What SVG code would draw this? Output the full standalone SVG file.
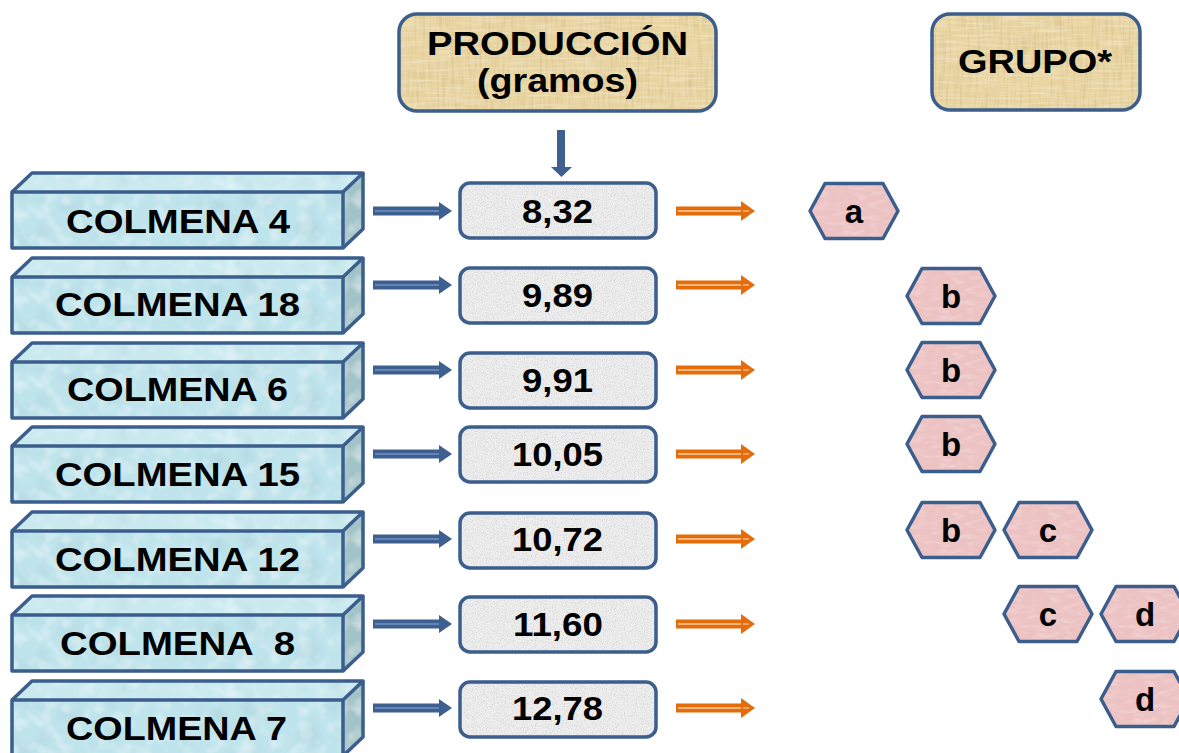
<svg xmlns="http://www.w3.org/2000/svg" xmlns:xlink="http://www.w3.org/1999/xlink" width="1179" height="753" viewBox="0 0 1179 753">
  <style>
    .lbl { font-family: "Liberation Sans", Arial, sans-serif; font-weight: bold; font-size: 34px; fill: #000; }
    .hdr { font-family: "Liberation Sans", Arial, sans-serif; font-weight: bold; font-size: 33px; fill: #000; }
    .hexlbl { font-family: "Liberation Sans", Arial, sans-serif; font-weight: bold; font-size: 33px; fill: #000; text-anchor: middle; }
    .edge { fill: none; stroke: #3b5e8d; stroke-width: 3.5; stroke-linejoin: round; }
    .front { fill: #bfe4ec; }
    .top { fill: #cbeaf0; }
    .side { fill: #a2c4c8; }
    .paper { fill: #e9d5a2; }
    .stone { fill: #efefef; }
    .hexfill { fill: #ecc2c3; }
  </style>
  <defs>
    <!-- water-drop mottling for the hive bars -->
    <filter id="water" x="0" y="0" width="100%" height="100%">
      <feTurbulence type="fractalNoise" baseFrequency="0.035" numOctaves="2" seed="7" result="n"/>
      <feColorMatrix in="n" type="matrix" values="0 0 0 0 0.25  0 0 0 0 0.45  0 0 0 0 0.5  0.7 0 0 0 -0.36" result="d"/>
      <feTurbulence type="fractalNoise" baseFrequency="0.07" numOctaves="2" seed="2" result="n2"/>
      <feColorMatrix in="n2" type="matrix" values="0 0 0 0 1  0 0 0 0 1  0 0 0 0 1  0.9 0 0 0 -0.43" result="w"/>
      <feMerge result="m"><feMergeNode in="SourceGraphic"/><feMergeNode in="d"/><feMergeNode in="w"/></feMerge>
      <feComposite in="m" in2="SourceAlpha" operator="in"/>
    </filter>
    <!-- fine speckle for the value boxes -->
    <filter id="speckle" x="0" y="0" width="100%" height="100%">
      <feTurbulence type="fractalNoise" baseFrequency="0.9" numOctaves="2" seed="4" result="n"/>
      <feColorMatrix in="n" type="matrix" values="0 0 0 0 0  0 0 0 0 0  0 0 0 0 0  0.6 0 0 0 -0.26" result="d"/>
      <feMerge result="m"><feMergeNode in="SourceGraphic"/><feMergeNode in="d"/></feMerge>
      <feComposite in="m" in2="SourceAlpha" operator="in"/>
    </filter>
    <!-- papyrus fibres for the headers -->
    <filter id="papyrus" x="0" y="0" width="100%" height="100%">
      <feTurbulence type="fractalNoise" baseFrequency="0.35 0.03" numOctaves="2" seed="9" result="n"/>
      <feColorMatrix in="n" type="matrix" values="0 0 0 0 0.45  0 0 0 0 0.3  0 0 0 0 0.1  0.7 0 0 0 -0.3" result="d"/>
      <feTurbulence type="fractalNoise" baseFrequency="0.03 0.4" numOctaves="2" seed="5" result="n2"/>
      <feColorMatrix in="n2" type="matrix" values="0 0 0 0 1  0 0 0 0 1  0 0 0 0 0.9  0.7 0 0 0 -0.3" result="w"/>
      <feMerge result="m"><feMergeNode in="SourceGraphic"/><feMergeNode in="d"/><feMergeNode in="w"/></feMerge>
      <feComposite in="m" in2="SourceAlpha" operator="in"/>
    </filter>
    <!-- soft marbling for the group tags -->
    <filter id="marble" x="0" y="0" width="100%" height="100%">
      <feTurbulence type="fractalNoise" baseFrequency="0.08 0.2" numOctaves="2" seed="11" result="n"/>
      <feColorMatrix in="n" type="matrix" values="0 0 0 0 1  0 0 0 0 0.92  0 0 0 0 0.92  0.7 0 0 0 -0.33" result="w"/>
      <feMerge result="m"><feMergeNode in="SourceGraphic"/><feMergeNode in="w"/></feMerge>
      <feComposite in="m" in2="SourceAlpha" operator="in"/>
    </filter>

    <!-- 3-D hive bar, front face at (0,0)-(331,56), depth 20/-19 -->
    <g id="bar">
      <g filter="url(#water)">
        <rect class="front" x="0" y="0" width="331" height="56"/>
        <polygon class="top" points="0,0 20,-19 351,-19 331,0"/>
        <polygon class="side" points="331,0 351,-19 351,37 331,56"/>
      </g>
      <rect class="edge" x="0" y="0" width="331" height="56"/>
      <polyline class="edge" points="0,0 20,-19 351,-19 331,0"/>
      <polyline class="edge" points="351,-19 351,37 331,56"/>
    </g>

    <g id="valbox">
      <rect class="stone" x="0" y="0" width="196" height="55" rx="10" filter="url(#speckle)"/>
      <rect class="edge" x="0" y="0" width="196" height="55" rx="10"/>
    </g>

    <g id="hex">
      <polygon class="hexfill" points="-44,0 -29,-27.5 29,-27.5 44,0 29,27.5 -29,27.5" filter="url(#marble)"/>
      <polygon class="edge" points="-44,0 -29,-27.5 29,-27.5 44,0 29,27.5 -29,27.5"/>
    </g>

    <!-- block arrows with a light centre line, tail at x=0 -->
    <g id="blueArrow">
      <rect x="0" y="-4.5" width="68" height="9" fill="#3d6090"/>
      <line x1="2" y1="0" x2="70" y2="0" stroke="#6585b6" stroke-width="2"/>
      <polygon points="66,-9 79,0 66,9" fill="#3d6090"/>
    </g>
    <g id="orangeArrow">
      <rect x="0" y="-4.5" width="67" height="9" fill="#e46c0a"/>
      <line x1="2" y1="0" x2="69" y2="0" stroke="#f6b57a" stroke-width="2"/>
      <polygon points="65,-10 79,0 65,10" fill="#e46c0a"/>
      <line x1="67" y1="0" x2="73" y2="0" stroke="#f6b57a" stroke-width="1.5"/>
    </g>
  </defs>

  <rect width="1179" height="753" fill="#ffffff"/>

  <!-- headers -->
  <g id="hdr-produccion">
    <rect class="paper" x="399" y="14" width="317" height="97" rx="18" filter="url(#papyrus)"/>
    <rect class="edge" x="399" y="14" width="317" height="97" rx="18"/>
    <text class="hdr" x="427" y="55" textLength="261" lengthAdjust="spacingAndGlyphs">PRODUCCIÓN</text>
    <text class="hdr" x="477" y="92" textLength="161" lengthAdjust="spacingAndGlyphs">(gramos)</text>
  </g>
  <g id="hdr-grupo">
    <rect class="paper" x="932" y="14" width="208" height="96" rx="18" filter="url(#papyrus)"/>
    <rect class="edge" x="932" y="14" width="208" height="96" rx="18"/>
    <text class="hdr" x="958" y="73" textLength="154" lengthAdjust="spacingAndGlyphs">GRUPO*</text>
  </g>

  <!-- hives -->
  <g id="colmena-4">
    <use xlink:href="#bar" x="12" y="192"/>
    <text class="lbl" x="66" y="233" textLength="224" lengthAdjust="spacingAndGlyphs">COLMENA 4</text>
  </g>
  <g id="colmena-18">
    <use xlink:href="#bar" x="12" y="277"/>
    <text class="lbl" x="55" y="316" textLength="245" lengthAdjust="spacingAndGlyphs">COLMENA 18</text>
  </g>
  <g id="colmena-6">
    <use xlink:href="#bar" x="12" y="362"/>
    <text class="lbl" x="67" y="401" textLength="221" lengthAdjust="spacingAndGlyphs">COLMENA 6</text>
  </g>
  <g id="colmena-15">
    <use xlink:href="#bar" x="12" y="446"/>
    <text class="lbl" x="55" y="486" textLength="245" lengthAdjust="spacingAndGlyphs">COLMENA 15</text>
  </g>
  <g id="colmena-12">
    <use xlink:href="#bar" x="12" y="531"/>
    <text class="lbl" x="55" y="571" textLength="245" lengthAdjust="spacingAndGlyphs">COLMENA 12</text>
  </g>
  <g id="colmena-8">
    <use xlink:href="#bar" x="12" y="615"/>
    <text class="lbl" x="60" y="655" textLength="235" lengthAdjust="spacingAndGlyphs" xml:space="preserve">COLMENA  8</text>
  </g>
  <g id="colmena-7">
    <use xlink:href="#bar" x="12" y="700"/>
    <text class="lbl" x="66" y="740" textLength="221" lengthAdjust="spacingAndGlyphs">COLMENA 7</text>
  </g>

  <!-- production values -->
  <g id="val-1">
    <use xlink:href="#valbox" x="460" y="183"/>
    <text class="lbl" x="522" y="223" textLength="71" lengthAdjust="spacingAndGlyphs">8,32</text>
  </g>
  <g id="val-2">
    <use xlink:href="#valbox" x="460" y="268"/>
    <text class="lbl" x="522" y="307" textLength="71" lengthAdjust="spacingAndGlyphs">9,89</text>
  </g>
  <g id="val-3">
    <use xlink:href="#valbox" x="460" y="353"/>
    <text class="lbl" x="522" y="392" textLength="71" lengthAdjust="spacingAndGlyphs">9,91</text>
  </g>
  <g id="val-4">
    <use xlink:href="#valbox" x="460" y="427"/>
    <text class="lbl" x="512" y="466" textLength="91" lengthAdjust="spacingAndGlyphs">10,05</text>
  </g>
  <g id="val-5">
    <use xlink:href="#valbox" x="460" y="513"/>
    <text class="lbl" x="512" y="551" textLength="91" lengthAdjust="spacingAndGlyphs">10,72</text>
  </g>
  <g id="val-6">
    <use xlink:href="#valbox" x="460" y="597"/>
    <text class="lbl" x="513" y="636" textLength="90" lengthAdjust="spacingAndGlyphs">11,60</text>
  </g>
  <g id="val-7">
    <use xlink:href="#valbox" x="460" y="682"/>
    <text class="lbl" x="512" y="720" textLength="91" lengthAdjust="spacingAndGlyphs">12,78</text>
  </g>

  <!-- group tags -->
  <g id="grp-a-1">
    <use xlink:href="#hex" x="854" y="211"/>
    <text class="hexlbl" x="854" y="223">a</text>
  </g>
  <g id="grp-b-2">
    <use xlink:href="#hex" x="951" y="296"/>
    <text class="hexlbl" x="951" y="308">b</text>
  </g>
  <g id="grp-b-3">
    <use xlink:href="#hex" x="951" y="370"/>
    <text class="hexlbl" x="951" y="382">b</text>
  </g>
  <g id="grp-b-4">
    <use xlink:href="#hex" x="951" y="444"/>
    <text class="hexlbl" x="951" y="456">b</text>
  </g>
  <g id="grp-b-5">
    <use xlink:href="#hex" x="951" y="530"/>
    <text class="hexlbl" x="951" y="542">b</text>
  </g>
  <g id="grp-c-5">
    <use xlink:href="#hex" x="1048" y="530"/>
    <text class="hexlbl" x="1048" y="542">c</text>
  </g>
  <g id="grp-c-6">
    <use xlink:href="#hex" x="1048" y="614"/>
    <text class="hexlbl" x="1048" y="626">c</text>
  </g>
  <g id="grp-d-6">
    <use xlink:href="#hex" x="1145" y="614"/>
    <text class="hexlbl" x="1145" y="626">d</text>
  </g>
  <g id="grp-d-7">
    <use xlink:href="#hex" x="1145" y="699"/>
    <text class="hexlbl" x="1145" y="711">d</text>
  </g>

  <!-- connectors -->
  <g id="connectors">
    <g id="down-arrow">
      <rect x="557" y="130" width="8" height="38" fill="#3d6090"/>
      <polygon points="551,167 572,167 561.5,177" fill="#3d6090"/>
    </g>
    <use xlink:href="#blueArrow" x="373" y="211"/>
    <use xlink:href="#blueArrow" x="373" y="285"/>
    <use xlink:href="#blueArrow" x="373" y="370"/>
    <use xlink:href="#blueArrow" x="373" y="454"/>
    <use xlink:href="#blueArrow" x="373" y="539"/>
    <use xlink:href="#blueArrow" x="373" y="624"/>
    <use xlink:href="#blueArrow" x="373" y="708"/>
    <use xlink:href="#orangeArrow" x="676" y="211"/>
    <use xlink:href="#orangeArrow" x="676" y="285"/>
    <use xlink:href="#orangeArrow" x="676" y="370"/>
    <use xlink:href="#orangeArrow" x="676" y="454"/>
    <use xlink:href="#orangeArrow" x="676" y="539"/>
    <use xlink:href="#orangeArrow" x="676" y="624"/>
    <use xlink:href="#orangeArrow" x="676" y="708"/>
  </g>
</svg>
